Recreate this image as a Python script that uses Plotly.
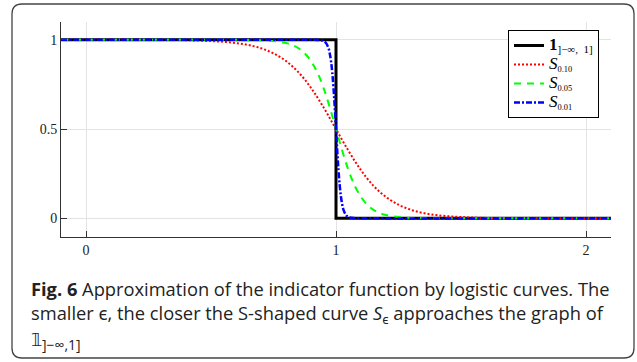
import plotly.graph_objects as go

# ---- data ----
ind_x = [-0.1, 1.0, 1.0, 2.1]
ind_y = [1.0, 1.0, 0.0, 0.0]

s10_x = [-0.1, 0.0, 0.2, 0.3, 0.4, 0.5, 0.55, 0.6, 0.65, 0.7, 0.75, 0.8, 0.85, 0.9, 0.95, 1.0,
         1.05, 1.1, 1.15, 1.2, 1.25, 1.3, 1.35, 1.4, 1.45, 1.5, 1.6, 1.7, 1.8, 2.1]
s10_y = [1.0, 1.0, 1.0, 0.999, 0.998, 0.993, 0.989, 0.982, 0.971, 0.953, 0.924, 0.881, 0.818,
         0.731, 0.622, 0.5, 0.378, 0.269, 0.182, 0.119, 0.076, 0.047, 0.029, 0.018, 0.011,
         0.007, 0.002, 0.001, 0.0, 0.0]

s05_x = [-0.1, 0.0, 0.5, 0.6, 0.65, 0.7, 0.75, 0.8, 0.825, 0.85, 0.875, 0.9, 0.925, 0.95, 0.975,
         1.0, 1.025, 1.05, 1.075, 1.1, 1.125, 1.15, 1.175, 1.2, 1.25, 1.3, 1.35, 1.4, 2.1]
s05_y = [1.0, 1.0, 1.0, 1.0, 0.999, 0.998, 0.993, 0.982, 0.971, 0.953, 0.924, 0.881, 0.818,
         0.731, 0.622, 0.5, 0.378, 0.269, 0.182, 0.119, 0.076, 0.047, 0.029, 0.018, 0.007,
         0.002, 0.001, 0.0, 0.0]

s01_x = [-0.1, 0.0, 0.9, 0.93, 0.95, 0.96, 0.97, 0.975, 0.98, 0.985, 0.99, 0.995, 1.0, 1.005,
         1.01, 1.015, 1.02, 1.025, 1.03, 1.04, 1.05, 1.07, 1.1, 2.1]
s01_y = [1.0, 1.0, 1.0, 0.999, 0.993, 0.982, 0.953, 0.924, 0.881, 0.818, 0.731, 0.622, 0.5,
         0.378, 0.269, 0.182, 0.119, 0.076, 0.047, 0.018, 0.007, 0.001, 0.0, 0.0]

names = [
    "<b><span style='font-size:17px'>1</span></b><sub><span style='font-size:11px'>]−∞,  1]</span></sub>",
    "<span style='font-size:17px'><i>S</i></span><sub>0.10</sub>",
    "<span style='font-size:17px'><i>S</i></span><sub>0.05</sub>",
    "<span style='font-size:17px'><i>S</i></span><sub>0.01</sub>",
]

x_ticks = [0, 1, 2]
y_ticks = [0, 0.5, 1]
y_tick_labels = ["0", "0.5", "1"]

caption_lines = [
    "<b>Fig. 6</b> Approximation of the indicator function by logistic curves. The",
    "smaller ϵ, the closer the S-shaped curve <i>S</i><sub>ϵ</sub> approaches the graph of",
    "𝟙<sub><span style='font-size:14px'>]−∞,1]</span></sub>",
]

# ---- layout geometry (pixels) ----
W, H = 637, 362
L, R, T, B = 61, 26, 22, 125
PW, PH = W - L - R, H - T - B


def px(p):
    return (p - L) / PW


def py(p):
    return (H - B - p) / PH


fig = go.Figure()
fig.add_trace(go.Scatter(x=ind_x, y=ind_y, mode="lines", name=names[0],
                         line=dict(color="black", width=3)))
fig.add_trace(go.Scatter(x=s10_x, y=s10_y, mode="lines", name=names[1], line_shape="spline",
                         line=dict(color="#ff0000", width=2, dash="2px,2px")))
fig.add_trace(go.Scatter(x=s05_x, y=s05_y, mode="lines", name=names[2], line_shape="spline",
                         line=dict(color="#00ff00", width=2, dash="7px,6px")))
fig.add_trace(go.Scatter(x=s01_x, y=s01_y, mode="lines", name=names[3], line_shape="spline",
                         line=dict(color="#0000ff", width=2.5, dash="6px,2px,2px,2px")))

serif = "Liberation Serif, DejaVu Serif, serif"
axis_common = dict(showline=True, linecolor="#333333", linewidth=1, mirror=False,
                   ticks="inside", ticklen=6, tickcolor="#333333", tickwidth=1,
                   showgrid=True, gridcolor="#e3e3e3", gridwidth=1, zeroline=False,
                   tickfont=dict(family=serif, size=14, color="#222222"))

fig.update_xaxes(range=[-0.1, 2.1], tickvals=x_ticks, ticktext=[str(v) for v in x_ticks],
                 **axis_common)
fig.update_yaxes(range=[-0.105, 1.1], tickvals=y_ticks, ticktext=y_tick_labels,
                 **axis_common)

# rounded outer frame
x0, x1, y0, y1, r = 12, 634, 4, 358, 10
path = (f"M {px(x0 + r)},{py(y0)} L {px(x1 - r)},{py(y0)} "
        f"Q {px(x1)},{py(y0)} {px(x1)},{py(y0 + r)} "
        f"L {px(x1)},{py(y1 - r)} Q {px(x1)},{py(y1)} {px(x1 - r)},{py(y1)} "
        f"L {px(x0 + r)},{py(y1)} Q {px(x0)},{py(y1)} {px(x0)},{py(y1 - r)} "
        f"L {px(x0)},{py(y0 + r)} Q {px(x0)},{py(y0)} {px(x0 + r)},{py(y0)} Z")
fig.add_shape(type="path", path=path, xref="paper", yref="paper",
              line=dict(color="#444444", width=1.3), layer="below")

cap_y = [288, 314, 340]
for line, yy in zip(caption_lines, cap_y):
    fig.add_annotation(text=line, xref="paper", yref="paper", x=px(29), y=py(yy),
                       xanchor="left", yanchor="middle", showarrow=False,
                       font=dict(family="Open Sans, Noto Sans, sans-serif", size=18.3,
                                 color="#222222"))

fig.update_layout(
    width=W, height=H,
    margin=dict(l=L, r=R, t=T, b=B),
    paper_bgcolor="white", plot_bgcolor="white",
    showlegend=True,
    legend=dict(x=px(508), y=py(30), xanchor="left", yanchor="top",
                bgcolor="white", bordercolor="black", borderwidth=1,
                font=dict(family=serif, size=12, color="black"),
                tracegroupgap=0, itemwidth=30),
)

fig.write_html("out.html")
